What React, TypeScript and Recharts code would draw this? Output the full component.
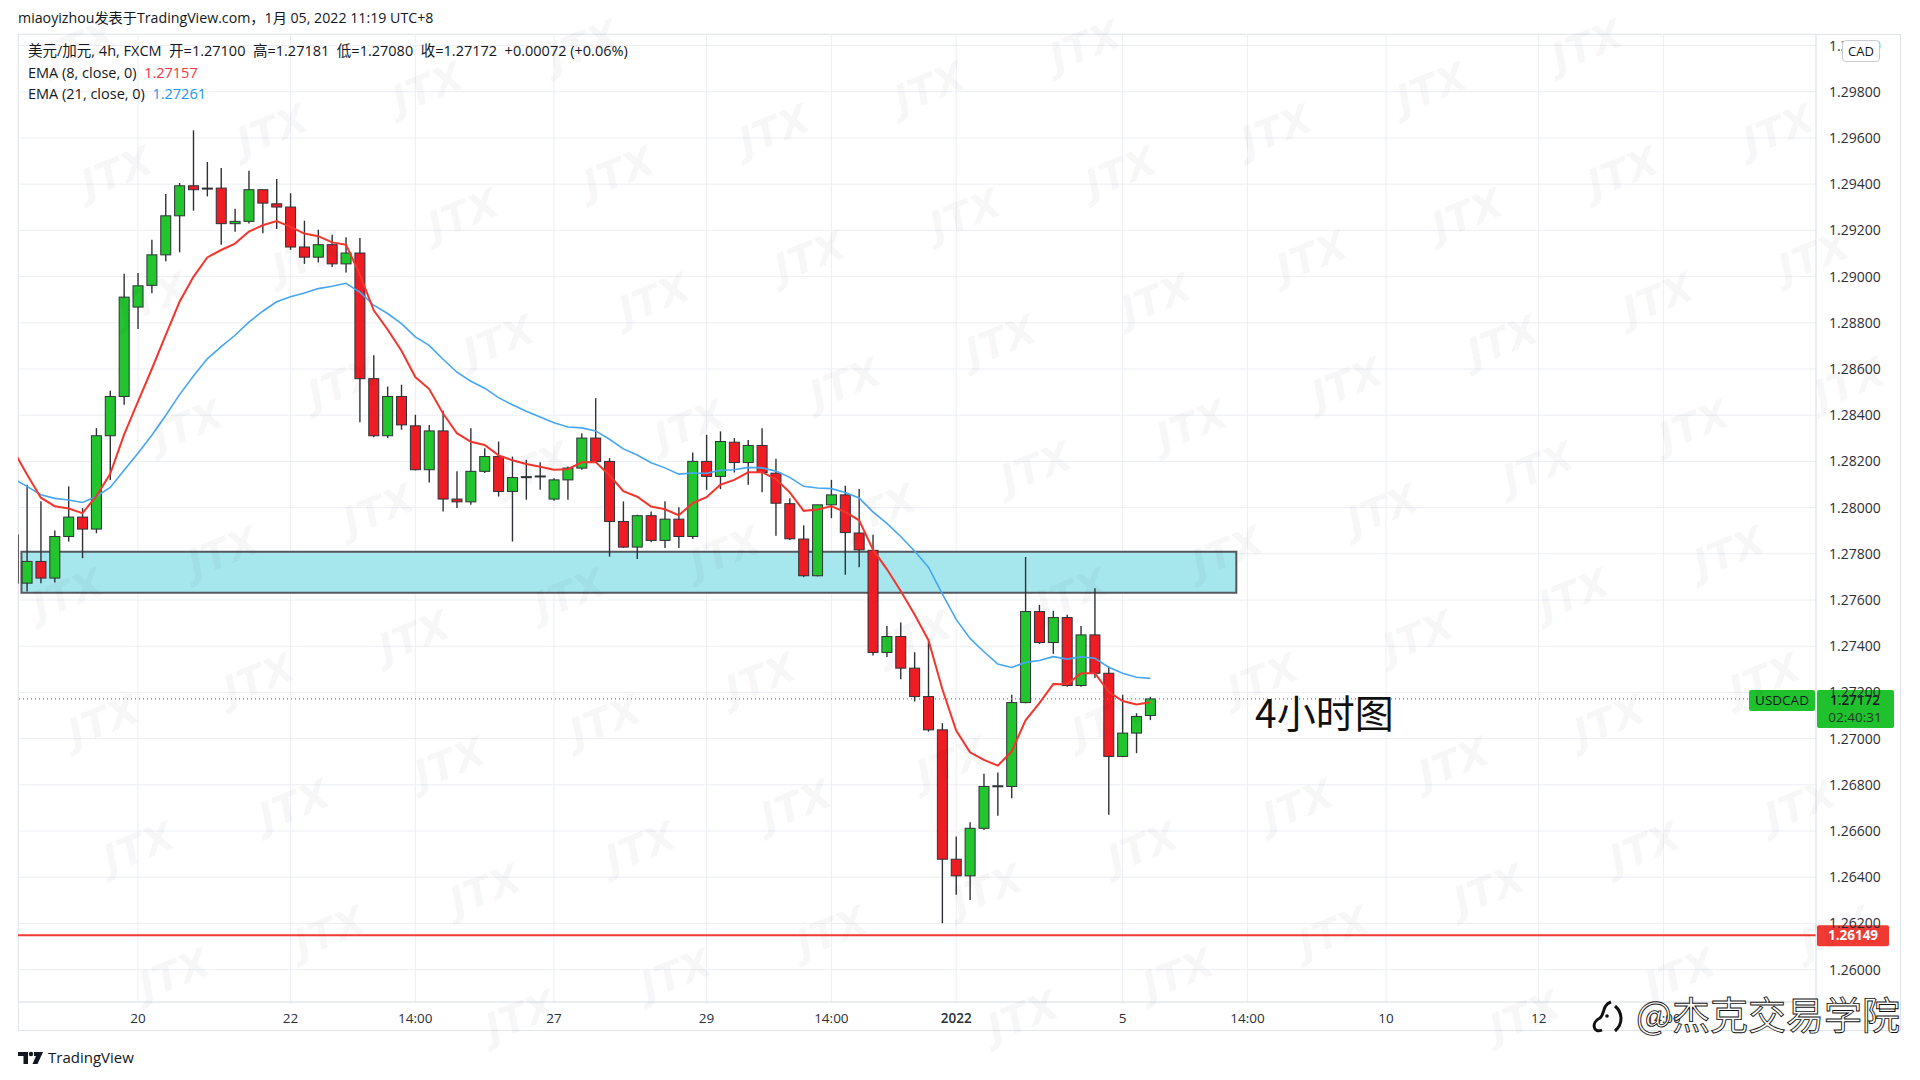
import React from "react";
import {
  ComposedChart,
  Bar,
  Line,
  XAxis,
  YAxis,
  CartesianGrid,
  ReferenceArea,
  ReferenceLine,
} from "recharts";

// USDCAD 4h candles, first entry is the half-hidden bar at the left edge (index -1)
const opens = [
  1.27882, 1.27673, 1.27767, 1.27695, 1.27875, 1.27959, 1.27907, 1.28311, 1.28481, 1.28868,
  1.28962, 1.29094, 1.29263, 1.29393, 1.29383, 1.29383, 1.29229, 1.29239, 1.29376, 1.29315,
  1.29301, 1.29128, 1.29084, 1.29138, 1.29055, 1.29102, 1.28558, 1.28311, 1.28481, 1.28354,
  1.28164, 1.28332, 1.28037, 1.28025, 1.28157, 1.28221, 1.2807, 1.2813, 1.28134, 1.28037,
  1.2812, 1.28171, 1.28301, 1.282, 1.2794, 1.27829, 1.27965, 1.27858, 1.2795, 1.27875,
  1.282, 1.28135, 1.28283, 1.28195, 1.28269, 1.28149, 1.28017, 1.27864, 1.27705, 1.28012,
  1.28055, 1.2789, 1.27815, 1.27373, 1.27442, 1.27305, 1.27182, 1.27038, 1.26478, 1.26406,
  1.26612, 1.26793, 1.26793, 1.27156, 1.2755, 1.27416, 1.27524, 1.2723, 1.27449, 1.27283,
  1.26923, 1.27024, 1.271,
];
const highs = [
  1.2795, 1.28099, 1.28027, 1.27901, 1.28092, 1.27998, 1.28344, 1.28506, 1.29012, 1.29015,
  1.29159, 1.29357, 1.29405, 1.29633, 1.29496, 1.2947, 1.29294, 1.29458, 1.29376, 1.29422,
  1.29361, 1.29242, 1.29203, 1.29181, 1.2917, 1.29167, 1.28659, 1.28524, 1.28532, 1.28402,
  1.28358, 1.28419, 1.28157, 1.28344, 1.28257, 1.28286, 1.28221, 1.28207, 1.28196, 1.28127,
  1.28178, 1.28322, 1.28474, 1.28214, 1.28027, 1.27969, 1.27983, 1.28027, 1.28001, 1.28239,
  1.28315, 1.2833, 1.28301, 1.28293, 1.28344, 1.28211, 1.28041, 1.27923, 1.28012, 1.2812,
  1.28095, 1.2808, 1.27882, 1.27488, 1.27503, 1.27374, 1.2742, 1.27067, 1.26576, 1.26638,
  1.26848, 1.26853, 1.2719, 1.27786, 1.27579, 1.27553, 1.27536, 1.27488, 1.27651, 1.27312,
  1.2719, 1.2711, 1.27181,
];
const lows = [
  1.2764, 1.27637, 1.27673, 1.27676, 1.27853, 1.27781, 1.27889, 1.2812, 1.28445, 1.28773,
  1.28928, 1.29066, 1.29105, 1.29285, 1.29347, 1.29138, 1.29194, 1.2923, 1.29188, 1.29206,
  1.29116, 1.29055, 1.29061, 1.29041, 1.29018, 1.28369, 1.28305, 1.28301, 1.28337, 1.28161,
  1.28109, 1.27983, 1.27998, 1.28012, 1.2815, 1.28048, 1.27853, 1.28034, 1.28077, 1.2803,
  1.28034, 1.28164, 1.28195, 1.27788, 1.27825, 1.27778, 1.2785, 1.27825, 1.27825, 1.27864,
  1.28077, 1.2808, 1.28152, 1.28099, 1.28066, 1.27878, 1.2786, 1.27699, 1.27702, 1.27954,
  1.27709, 1.27742, 1.2736, 1.27353, 1.27257, 1.27161, 1.2703, 1.26201, 1.26324, 1.26302,
  1.26605, 1.26666, 1.26742, 1.27153, 1.2741, 1.27367, 1.27225, 1.27225, 1.27262, 1.2667,
  1.2692, 1.26937, 1.2708,
];
const closes = [
  1.27673, 1.27767, 1.27695, 1.27875, 1.27959, 1.27907, 1.28311, 1.28481, 1.28911, 1.2896,
  1.29094, 1.29263, 1.29393, 1.29376, 1.29379, 1.29229, 1.29239, 1.29376, 1.29318, 1.29301,
  1.29128, 1.29084, 1.29138, 1.29055, 1.29102, 1.28558, 1.28311, 1.28481, 1.28358, 1.28164,
  1.28332, 1.28037, 1.28025, 1.28157, 1.28221, 1.2807, 1.2813, 1.28134, 1.28137, 1.2812,
  1.28171, 1.28301, 1.282, 1.2794, 1.27829, 1.27965, 1.27858, 1.2795, 1.27875, 1.282,
  1.28135, 1.28286, 1.28195, 1.28269, 1.28152, 1.28019, 1.27865, 1.27705, 1.28012, 1.28055,
  1.27892, 1.27817, 1.27373, 1.27442, 1.27305, 1.27182, 1.27038, 1.26478, 1.26406, 1.26612,
  1.26793, 1.26796, 1.27156, 1.2755, 1.27416, 1.27524, 1.2723, 1.27449, 1.27283, 1.26923,
  1.27024, 1.27096, 1.27172,
];
const ema8 = [
  1.2825, 1.28143, 1.28043, 1.28006, 1.27996, 1.27976, 1.2805, 1.28146, 1.28316, 1.28459,
  1.286, 1.28747, 1.28891, 1.28999, 1.29083, 1.29115, 1.29143, 1.29195, 1.29222, 1.2924,
  1.29215, 1.29186, 1.29175, 1.29148, 1.29138, 1.29009, 1.28854, 1.28771, 1.28679, 1.28565,
  1.28513, 1.28407, 1.28322, 1.28285, 1.28271, 1.28226, 1.28205, 1.28189, 1.28177, 1.28164,
  1.28166, 1.28196, 1.28197, 1.2814, 1.28071, 1.28047, 1.28005, 1.27993, 1.27967, 1.28019,
  1.28045, 1.28099, 1.2812, 1.28153, 1.28153, 1.28123, 1.28066, 1.27986, 1.27992, 1.28006,
  1.27981, 1.27945, 1.27818, 1.27734, 1.27639, 1.27537, 1.27426, 1.27215, 1.27035, 1.26941,
  1.26908, 1.26883, 1.26944, 1.27079, 1.27154, 1.27236, 1.27235, 1.27283, 1.27283, 1.27203,
  1.27163, 1.27148, 1.27157,
];
const ema21 = [
  1.28125, 1.28092, 1.28056, 1.2804, 1.28033, 1.28022, 1.28048, 1.28087, 1.28162, 1.28235,
  1.28313, 1.28399, 1.28489, 1.2857, 1.28644, 1.28697, 1.28746, 1.28803, 1.2885, 1.28891,
  1.28913, 1.28929, 1.28948, 1.28958, 1.28971, 1.28933, 1.28876, 1.2884, 1.28796, 1.28739,
  1.28702, 1.28642, 1.28586, 1.28547, 1.28517, 1.28476, 1.28445, 1.28417, 1.28392, 1.28367,
  1.28349, 1.28345, 1.28332, 1.28296, 1.28254, 1.28228, 1.28194, 1.28172, 1.28145, 1.2815,
  1.28149, 1.28161, 1.28164, 1.28174, 1.28172, 1.28158, 1.28131, 1.28092, 1.28085, 1.28082,
  1.28065, 1.28042, 1.27981, 1.27932, 1.27875, 1.27812, 1.27742, 1.27627, 1.27516, 1.27434,
  1.27376, 1.27323, 1.27308, 1.2733, 1.27338, 1.27355, 1.27344, 1.27354, 1.27348, 1.27309,
  1.27283, 1.27266, 1.27261,
];

const timeTicks = [8, 19, 28, 38, 49, 58, 67, 79, 88, 98, 109, 118];
const timeLabels = ["20", "22", "14:00", "27", "29", "14:00", "2022", "5", "14:00", "10", "12", "14:00"];
const priceTicks = [
  1.26, 1.262, 1.264, 1.266, 1.268, 1.27, 1.272, 1.274, 1.276, 1.278, 1.28,
  1.282, 1.284, 1.286, 1.288, 1.29, 1.292, 1.294, 1.296, 1.298, 1.3,
];

const zoneLow = 1.27631;
const zoneHigh = 1.27809;
const zoneEnd = 87.2;
const supportLevel = 1.26149;
const lastClose = closes[closes.length - 1];

const GREEN = "#22c52e";
const RED = "#ee1d24";
const OUTLINE = "#2e3138";
const FONT = "'Open Sans', 'Noto Sans CJK SC', sans-serif";
const TEXT = "#2a2e39";

const rows = opens.map((o, k) => ({
  i: k - 1,
  o,
  h: highs[k],
  l: lows[k],
  c: closes[k],
  e8: ema8[k],
  e21: ema21[k],
}));

// faint "JTX" watermark lattice (decoration only), kept clear of the page edges
const marks: { x: number; y: number }[] = [];
for (let r = 0; r < 27; r++) {
  const y = 30 + r * 42.2;
  let x0 = (710 - r * 155.5) % 502;
  if (x0 < 0) x0 += 502;
  for (let x = x0 - 502; x < 1980; x += 502) {
    if (x >= 8 && x <= 1830 && y >= 62 && y <= 1070) marks.push({ x, y });
  }
}

function Candle(props: any) {
  const { x, y, width, height, payload } = props;
  if (!payload || height == null) return null;
  const { o, h, l, c } = payload;
  const span = h - l || 1e-9;
  const py = (p: number) => y + ((h - p) / span) * height;
  const cx = x + width / 2;
  const top = py(Math.max(o, c));
  const bot = py(Math.min(o, c));
  const bw = 10;
  return (
    <g>
      <line x1={cx} x2={cx} y1={y} y2={y + height} stroke={OUTLINE} strokeWidth={1.4} />
      <rect
        x={cx - bw / 2}
        y={top}
        width={bw}
        height={Math.max(1, bot - top)}
        fill={c >= o ? GREEN : RED}
        stroke={OUTLINE}
        strokeWidth={1}
      />
    </g>
  );
}

function SupportTag(props: any) {
  const vb = props.viewBox || {};
  const ax = vb.x + vb.width;
  const y = vb.y;
  return (
    <g>
      <rect x={ax + 1} y={y - 10} width={72} height={21} rx={2} fill="#f23a35" />
      <text x={ax + 37} y={y + 5} textAnchor="middle" fill="#fff" fontSize={13.5} fontWeight={700} fontFamily={FONT}>
        {supportLevel.toFixed(5)}
      </text>
    </g>
  );
}

function LastTag(props: any) {
  const vb = props.viewBox || {};
  const ax = vb.x + vb.width;
  const y = vb.y;
  return (
    <g>
      <rect x={ax - 67} y={y - 9} width={66} height={21} rx={2} fill="#1fc12d" />
      <text x={ax - 34} y={y + 6} textAnchor="middle" fill="#131722" fontSize={13.5} fontFamily={FONT}>
        USDCAD
      </text>
      <rect x={ax + 1} y={y - 9} width={77} height={38} rx={2} fill="#1fc12d" />
      <text x={ax + 39} y={y + 6} textAnchor="middle" fill="#131722" fontSize={13.5} fontWeight={600} fontFamily={FONT}>
        {lastClose.toFixed(5)}
      </text>
      <text x={ax + 39} y={y + 23} textAnchor="middle" fill="#1d3b22" fontSize={13.5} fontFamily={FONT}>
        02:40:31
      </text>
    </g>
  );
}

const XTick = (props: any) => {
  const { x, y, payload } = props;
  const k = timeTicks.indexOf(payload.value);
  const label = k >= 0 ? timeLabels[k] : "";
  return (
    <text x={x} y={y + 13} textAnchor="middle" fill={TEXT} fontSize={13.5} fontFamily={FONT} fontWeight={label === "2022" ? 600 : 400}>
      {label}
    </text>
  );
};

export default function App() {
  return (
    <div style={{ position: "absolute", left: 0, top: 0, width: 1920, height: 1080, background: "#fff", overflow: "hidden", fontFamily: FONT }}>
      <div style={{ position: "absolute", left: 18, top: 34, width: 1881, height: 995, border: "1px solid #e0e3eb" }} />
      <div style={{ position: "absolute", left: 0, top: 0 }}>
        <ComposedChart width={1900} height={1030} data={rows} margin={{ top: 34, right: 0, left: 18, bottom: 0 }}>
          <CartesianGrid stroke="#eceef3" strokeWidth={1} />
          <XAxis
            dataKey="i"
            type="number"
            domain={[-0.65, 129]}
            ticks={timeTicks}
            allowDataOverflow
            height={28}
            tickLine={false}
            axisLine={{ stroke: "#e0e3eb" }}
            tick={<XTick />}
            interval={0}
          />
          <YAxis
            orientation="right"
            domain={[1.2586, 1.3005]}
            ticks={priceTicks}
            allowDataOverflow
            width={84}
            tickLine={false}
            tickSize={0}
            tickMargin={13}
            axisLine={{ stroke: "#e0e3eb" }}
            tick={{ fontSize: 14, fill: TEXT, fontFamily: FONT, textAnchor: "start" }}
            tickFormatter={(v: number) => v.toFixed(5)}
            interval={0}
          />
          <ReferenceArea
            x1={-0.4}
            x2={zoneEnd}
            y1={zoneLow}
            y2={zoneHigh}
            fill="#a6e7ee"
            fillOpacity={1}
            stroke="#55585f"
            strokeWidth={2}
          />
          <Bar dataKey={(d: any) => [d.l, d.h]} barSize={10} shape={<Candle />} isAnimationActive={false} />
          <Line type="linear" dataKey="e21" stroke="#45a6f2" strokeWidth={1.6} dot={false} activeDot={false} isAnimationActive={false} />
          <Line type="linear" dataKey="e8" stroke="#f2362e" strokeWidth={2} dot={false} activeDot={false} isAnimationActive={false} />
          <ReferenceLine y={lastClose} stroke="#22c52e" strokeDasharray="1 3" strokeWidth={1.2} label={<LastTag />} />
          <ReferenceLine y={supportLevel} stroke="#f23a35" strokeWidth={2} label={<SupportTag />} />
        </ComposedChart>
      </div>

      {/* watermark lattice */}
      <svg style={{ position: "absolute", left: 0, top: 0, pointerEvents: "none" }} width={1920} height={1080}>
        {marks.map((m, k) => (
          <text
            key={k}
            x={m.x}
            y={m.y}
            transform={`rotate(-22 ${m.x} ${m.y})`}
            fontSize={40}
            fontWeight={900}
            fontStyle="italic"
            fontFamily="'DejaVu Sans', sans-serif"
            fill="#000"
            fillOpacity={0.04}
          >
            JTX
          </text>
        ))}
      </svg>

      {/* header texts */}
      <div style={{ position: "absolute", left: 18, top: 7, fontSize: 14.2, color: "#131722", whiteSpace: "nowrap" }}>
        miaoyizhou发表于TradingView.com，1月 05, 2022 11:19 UTC+8
      </div>
      <div style={{ position: "absolute", left: 28, top: 40, fontSize: 14.5, color: "#131722", whiteSpace: "nowrap", lineHeight: "21.5px" }}>
        <div>美元/加元, 4h, FXCM&nbsp; 开=1.27100&nbsp; 高=1.27181&nbsp; 低=1.27080&nbsp; 收=1.27172&nbsp; +0.00072 (+0.06%)</div>
        <div>
          EMA (8, close, 0)&nbsp; <span style={{ color: "#f23645" }}>{ema8[ema8.length - 1].toFixed(5)}</span>
        </div>
        <div>
          EMA (21, close, 0)&nbsp; <span style={{ color: "#2196f3" }}>{ema21[ema21.length - 1].toFixed(5)}</span>
        </div>
      </div>

      {/* CAD badge */}
      <div
        style={{
          position: "absolute", left: 1842, top: 40, width: 36, height: 20, background: "#fff",
          border: "1px solid #c9ccd4", borderRadius: 4, fontSize: 13, color: "#131722",
          textAlign: "center", lineHeight: "20px",
        }}
      >
        CAD
      </div>

      {/* annotation */}
      <div style={{ position: "absolute", left: 1255, top: 687, fontSize: 39, color: "#111", fontFamily: "'Noto Sans CJK SC', sans-serif", lineHeight: "48px" }}>
        4小时图
      </div>

      {/* footer logo */}
      <svg style={{ position: "absolute", left: 0, top: 1044 }} width={200} height={30}>
        <polygon points="18,8 28,8 28,20 23.5,20 23.5,12 18,12" fill="#131722" />
        <circle cx={31} cy={10} r={2.2} fill="#131722" />
        <polygon points="34,8 43,8 37.5,20 32.5,20 36,12 34,12" fill="#131722" />
        <text x={48} y={19} fontSize={15} fill="#131722" fontFamily={FONT}>TradingView</text>
      </svg>

      {/* weibo watermark */}
      <svg style={{ position: "absolute", left: 1580, top: 990 }} width={340} height={54}>
        <path d="M22 40 C 13 44, 11 32, 20 28 C 25 24, 22 15, 31 12" fill="none" stroke="#111" strokeWidth={3} />
        <path d="M35 16 C 43 23, 43 34, 35 41" fill="none" stroke="#111" strokeWidth={3} />
        <circle cx={27} cy={26} r={1.8} fill="#111" />
        <text x={56} y={39} fontSize={38} fill="#fff" stroke="#111" strokeWidth={0.9} fontFamily="'Noto Sans CJK SC', sans-serif">
          @杰克交易学院
        </text>
      </svg>
    </div>
  );
}
